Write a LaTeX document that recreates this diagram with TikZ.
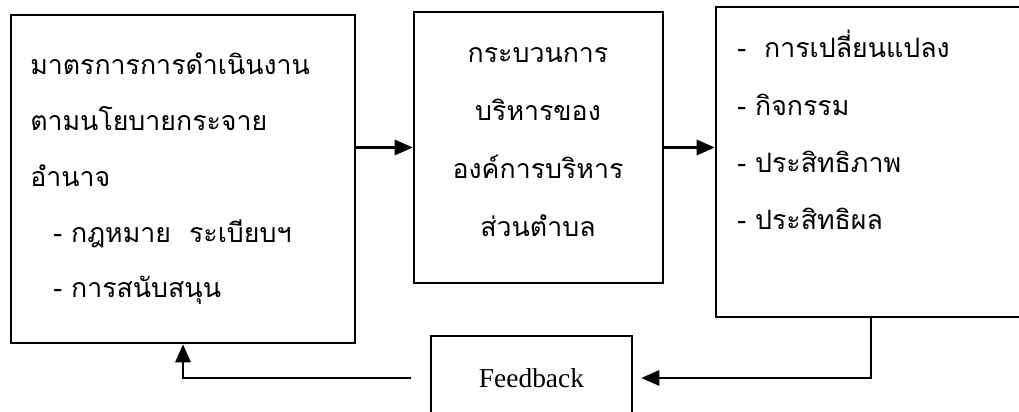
\documentclass[tikz,border=0pt]{standalone}
\usepackage{fontspec}
\setmainfont{Liberation Serif}
\newfontfamily\thaifont[Script=Thai]{Loma}
\usetikzlibrary{arrows.meta}

\tikzset{
	box/.style={draw, line width=1.8pt, inner sep=0pt},
	thai/.style={font=\thaifont\fontsize{19}{24}\selectfont, inner sep=0pt},
	link/.style={line width=1.6pt, -{Triangle[length=0.45cm,width=0.38cm]}}
}

\begin{document}
\begin{tikzpicture}
	\useasboundingbox (0,0) rectangle (25.475,10.3);
	% boxes
	\node[box, minimum width=8.6cm, minimum height=8.2cm] (measure) at (4.575,5.825) {};
	\node[box, minimum width=6.225cm, minimum height=6.775cm] (process) at (13.4625,6.6125) {};
	\node[box, minimum width=7.75cm, minimum height=7.75cm] (result) at (21.775,6.25) {};
	\node[box, minimum width=5.025cm, minimum height=2.1cm, font=\fontsize{19.5}{24}\selectfont] (fb) at (13.2875,0.85) {Feedback};
	
	% left box
	\foreach \t [count=\i] in {มาตรการการดำเนินงาน, ตามนโยบายกระจาย, อำนาจ}
	{
		\pgfmathsetmacro{\yi}{8.425-(\i-1)*1.394};
		\node[thai, anchor=base west] (m\i) at (0.75,\yi) {\t};
	}
	\node[thai, anchor=base west] (m4) at (1.325,4.244) {- กฎหมาย\ \ ระเบียบฯ};
	\node[thai, anchor=base west] (m5) at (1.325,2.85) {- การสนับสนุน};
	
	% middle box
	\foreach \t [count=\i] in {กระบวนการ, บริหารของ, องค์การบริหาร, ส่วนตำบล}
	{
		\pgfmathsetmacro{\yi}{8.725-(\i-1)*1.45};
		\node[thai, anchor=base] (p\i) at (13.45,\yi) {\t};
	}
	
	% right box
	\node[thai, anchor=base west] (r1) at (18.425,8.85) {-\ \ การเปลี่ยนแปลง};
	\foreach \t [count=\i from 2] in {กิจกรรม, ประสิทธิภาพ, ประสิทธิผล}
	{
		\pgfmathsetmacro{\yi}{8.85-(\i-1)*1.433};
		\node[thai, anchor=base west] (r\i) at (18.425,\yi) {- \t};
	}
	
	% connectors
	\draw[link] (measure.east |- process.west) -- (process.west);
	\draw[link] (process.east) -- (result.west |- process.east);
	\draw[link, shorten >=0.2cm] (result.south) |- (fb.east);
	\draw[link, shorten <=0.475cm] (fb.west) -| (measure.south);
\end{tikzpicture}
\end{document}
